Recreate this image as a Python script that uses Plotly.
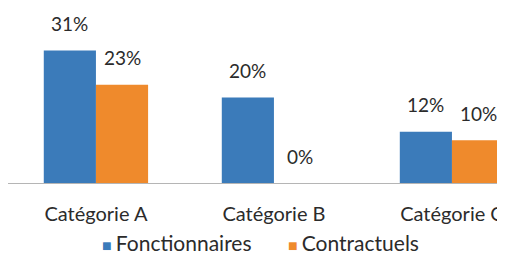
import plotly.graph_objects as go

categories = ["Catégorie A", "Catégorie B", "Catégorie C"]
fonctionnaires = [31, 20, 12]
contractuels = [23, 0, 10]
series_names = ["Fonctionnaires", "Contractuels"]
colors = ["#3b7bba", "#ef8a2c"]

FONT = "Lato, 'Open Sans', sans-serif"
TXT = "#2b2b2b"
fig = go.Figure()
idx = list(range(len(categories)))
for name, vals, col in zip(series_names, [fonctionnaires, contractuels], colors):
    fig.add_trace(go.Bar(x=idx, y=vals, name=name, marker_color=col,
                         marker_line_width=0, showlegend=False))
# legend entries: coloured square glyph right before the name
for name, col in zip(series_names, colors):
    label = f"<span style='color:{col};font-size:16px'>■ </span>{name}"
    fig.add_trace(go.Scatter(x=[None], y=[None], mode="markers", name=label,
                             marker=dict(symbol="square", size=1, color="rgba(0,0,0,0)")))

bargap = 0.414
half = (1 - bargap) / 2
ann = []
for s, vals in enumerate([fonctionnaires, contractuels]):
    off = -half / 2 if s == 0 else half / 2
    for i, v in enumerate(vals):
        ann.append(dict(x=i + off, y=v, xref="x", yref="y", text=f"{v}%",
                        showarrow=False, yshift=27,
                        font=dict(family=FONT, size=19, color=TXT)))

fig.update_layout(
    width=497, height=248,
    margin=dict(l=0, r=0, t=0, b=73, autoexpand=False),
    paper_bgcolor="white", plot_bgcolor="white",
    barmode="group", bargap=bargap, bargroupgap=0,
    font=dict(family=FONT, size=20, color=TXT),
    annotations=ann,
    showlegend=True,
    legend=dict(orientation="h", x=0.1087, xanchor="left", y=-0.345, yanchor="middle",
                font=dict(family=FONT, size=21, color=TXT),
                itemwidth=30, traceorder="normal", entrywidth=141,
                bgcolor="rgba(0,0,0,0)", borderwidth=0, tracegroupgap=0),
    xaxis=dict(tickmode="array", tickvals=idx, ticktext=categories,
               range=[-0.494, 2.298], showgrid=False, zeroline=False,
               showline=True, linecolor="#b5b5b5", linewidth=1, automargin=False,
               ticks="outside", ticklen=13, tickcolor="rgba(0,0,0,0)"),
    yaxis=dict(range=[0, 40.98], visible=False, fixedrange=True),
)
fig.write_html("out.html")
